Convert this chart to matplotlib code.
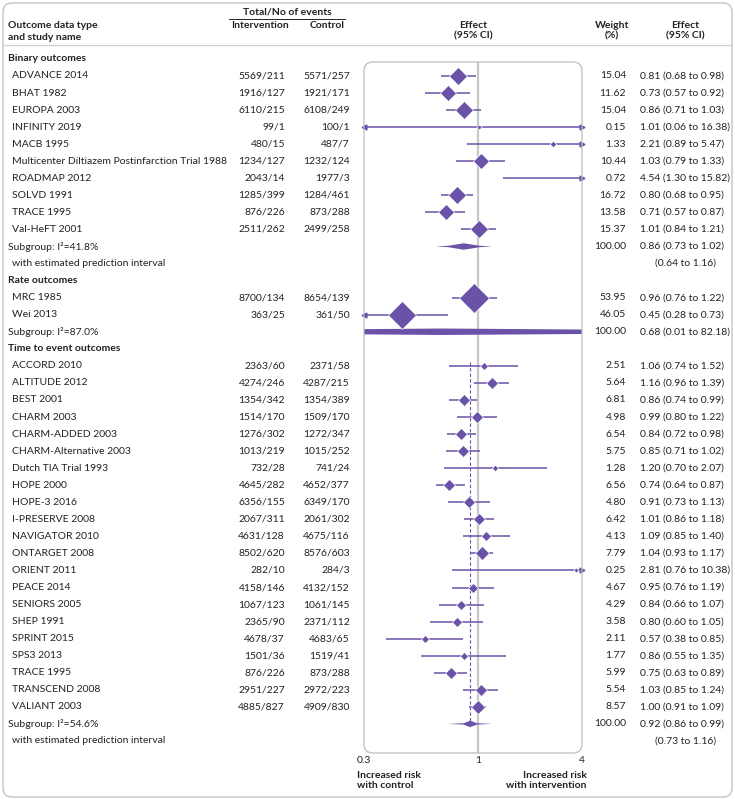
import numpy as np
import matplotlib.pyplot as plt
from matplotlib.patches import FancyBboxPatch, Polygon
from matplotlib.transforms import blended_transform_factory

W, H = 735, 799
purple = '#6a52a8'
grey = '#c8c8c8'
ink = '#222222'

plt.rcParams['font.family'] = ['Lato', 'DejaVu Sans']
plt.rcParams['font.size'] = 7.5

# binary outcomes
bin_names = ['ADVANCE 2014', 'BHAT 1982', 'EUROPA 2003', 'INFINITY 2019', 'MACB 1995',
             'Multicenter Diltiazem Postinfarction Trial 1988', 'ROADMAP 2012', 'SOLVD 1991',
             'TRACE 1995', 'Val-HeFT 2001']
bin_int = ['5569/211', '1916/127', '6110/215', '99/1', '480/15', '1234/127', '2043/14',
           '1285/399', '876/226', '2511/262']
bin_ctl = ['5571/257', '1921/171', '6108/249', '100/1', '487/7', '1232/124', '1977/3',
           '1284/461', '873/288', '2499/258']
bin_wt = [15.04, 11.62, 15.04, 0.15, 1.33, 10.44, 0.72, 16.72, 13.58, 15.37]
bin_est = [0.81, 0.73, 0.86, 1.01, 2.21, 1.03, 4.54, 0.80, 0.71, 1.01]
bin_lo = [0.68, 0.57, 0.71, 0.06, 0.89, 0.79, 1.30, 0.68, 0.57, 0.84]
bin_hi = [0.98, 0.92, 1.03, 16.38, 5.47, 1.33, 15.82, 0.95, 0.87, 1.21]
bin_i2 = '41.8%'
bin_pool = [0.86, 0.73, 1.02]
bin_pi = [0.64, 1.16]

# rate outcomes
rate_names = ['MRC 1985', 'Wei 2013']
rate_int = ['8700/134', '363/25']
rate_ctl = ['8654/139', '361/50']
rate_wt = [53.95, 46.05]
rate_est = [0.96, 0.45]
rate_lo = [0.76, 0.28]
rate_hi = [1.22, 0.73]
rate_i2 = '87.0%'
rate_pool = [0.68, 0.01, 82.18]

# time to event outcomes
tte_names = ['ACCORD 2010', 'ALTITUDE 2012', 'BEST 2001', 'CHARM 2003', 'CHARM-ADDED 2003',
             'CHARM-Alternative 2003', 'Dutch TIA Trial 1993', 'HOPE 2000', 'HOPE-3 2016',
             'I-PRESERVE 2008', 'NAVIGATOR 2010', 'ONTARGET 2008', 'ORIENT 2011', 'PEACE 2014',
             'SENIORS 2005', 'SHEP 1991', 'SPRINT 2015', 'SPS3 2013', 'TRACE 1995',
             'TRANSCEND 2008', 'VALIANT 2003']
tte_int = ['2363/60', '4274/246', '1354/342', '1514/170', '1276/302', '1013/219', '732/28',
           '4645/282', '6356/155', '2067/311', '4631/128', '8502/620', '282/10', '4158/146',
           '1067/123', '2365/90', '4678/37', '1501/36', '876/226', '2951/227', '4885/827']
tte_ctl = ['2371/58', '4287/215', '1354/389', '1509/170', '1272/347', '1015/252', '741/24',
           '4652/377', '6349/170', '2061/302', '4675/116', '8576/603', '284/3', '4132/152',
           '1061/145', '2371/112', '4683/65', '1519/41', '873/288', '2972/223', '4909/830']
tte_wt = [2.51, 5.64, 6.81, 4.98, 6.54, 5.75, 1.28, 6.56, 4.80, 6.42, 4.13, 7.79, 0.25, 4.67,
          4.29, 3.58, 2.11, 1.77, 5.99, 5.54, 8.57]
tte_est = [1.06, 1.16, 0.86, 0.99, 0.84, 0.85, 1.20, 0.74, 0.91, 1.01, 1.09, 1.04, 2.81, 0.95,
           0.84, 0.80, 0.57, 0.86, 0.75, 1.03, 1.00]
tte_lo = [0.74, 0.96, 0.74, 0.80, 0.72, 0.71, 0.70, 0.64, 0.73, 0.86, 0.85, 0.93, 0.76, 0.76,
          0.66, 0.60, 0.38, 0.55, 0.63, 0.85, 0.91]
tte_hi = [1.52, 1.39, 0.99, 1.22, 0.98, 1.02, 2.07, 0.87, 1.13, 1.18, 1.40, 1.17, 10.38, 1.19,
          1.07, 1.05, 0.85, 1.35, 0.89, 1.24, 1.09]
tte_i2 = '54.6%'
tte_pool = [0.92, 0.86, 0.99]
tte_pi = [0.73, 1.16]

sections = [
    ('Binary outcomes', bin_names, bin_int, bin_ctl, bin_wt, bin_est, bin_lo, bin_hi,
     bin_i2, bin_pool, bin_pi, False),
    ('Rate outcomes', rate_names, rate_int, rate_ctl, rate_wt, rate_est, rate_lo, rate_hi,
     rate_i2, rate_pool, None, False),
    ('Time to event outcomes', tte_names, tte_int, tte_ctl, tte_wt, tte_est, tte_lo, tte_hi,
     tte_i2, tte_pool, tte_pi, True),
]

xmin, xmax = 0.3, 3.0
row0, pitch = 76, 17.05
box_l, box_r, box_t, box_b = 364, 582, 62, 753

fig = plt.figure(figsize=(W / 100, H / 100), dpi=100)
ax = fig.add_axes([box_l / W, 1 - box_b / H, (box_r - box_l) / W, (box_b - box_t) / H])
ax.set_xscale('log')
ax.set_xlim(xmin, xmax)
ax.set_ylim((box_b - row0) / pitch, (box_t - row0) / pitch)
for s in ax.spines.values():
    s.set_visible(False)
ax.patch.set_visible(False)
ax.set_yticks([])
ax.set_xticks([0.3, 1, 3])
ax.set_xticklabels(['0.3', '1', '4'])
ax.xaxis.set_minor_locator(plt.NullLocator())
ax.tick_params(axis='x', length=0, pad=2.5, labelsize=7.5, labelcolor=ink)

ax.axvline(1, color=grey, lw=1.6, zorder=0)

# frames
inch = fig.dpi_scale_trans
fig.patches.append(FancyBboxPatch(((box_l) / 100, (H - box_b) / 100), (box_r - box_l) / 100,
                                  (box_b - box_t) / 100, boxstyle='round,pad=0,rounding_size=0.09',
                                  transform=inch, fc='none', ec='#bdbdbd', lw=0.9, zorder=0))
fig.patches.append(FancyBboxPatch((3 / 100, 2 / 100), (W - 6) / 100, (H - 5) / 100,
                                  boxstyle='round,pad=0,rounding_size=0.09',
                                  transform=inch, fc='none', ec='#bdbdbd', lw=0.9, zorder=0))

tr = blended_transform_factory(fig.transFigure, ax.transData)


def fx(px):
    return px / W


def fy(px):
    return 1 - px / H


def row_text(x, r, s, ha='left', bold=False):
    fig.text(fx(x), r, s, transform=tr, ha=ha, va='center', color=ink,
             fontweight='bold' if bold else 'normal')


# header
fig.text(fx(8), fy(26), 'Outcome data type', fontweight='bold', va='center', color=ink)
fig.text(fx(8), fy(37), 'and study name', fontweight='bold', va='center', color=ink)
fig.text(fx(287), fy(12), 'Total/No of events', fontweight='bold', va='center', ha='center', color=ink)
fig.add_artist(plt.Line2D([fx(229), fx(345)], [fy(18.5), fy(18.5)], color=ink, lw=0.7))
fig.text(fx(260), fy(25), 'Intervention', fontweight='bold', va='center', ha='center', color=ink)
fig.text(fx(327), fy(25), 'Control', fontweight='bold', va='center', ha='center', color=ink)
fig.text(fx(473), fy(25), 'Effect', fontweight='bold', va='center', ha='center', color=ink)
fig.text(fx(473), fy(36), '(95% CI)', fontweight='bold', va='center', ha='center', color=ink)
fig.text(fx(612), fy(25), 'Weight', fontweight='bold', va='center', ha='center', color=ink)
fig.text(fx(612), fy(36), '(%)', fontweight='bold', va='center', ha='center', color=ink)
fig.text(fx(685), fy(25), 'Effect', fontweight='bold', va='center', ha='center', color=ink)
fig.text(fx(685), fy(36), '(95% CI)', fontweight='bold', va='center', ha='center', color=ink)
fig.add_artist(plt.Line2D([fx(3), fx(W - 3)], [fy(45), fy(45)], color='#d0d0d0', lw=0.9))


def fmt_ci(e, lo, hi):
    return f'{e:.2f} ({lo:.2f} to {hi:.2f})'


r = -1
for (title, names, n_int, n_ctl, wts, est, lo, hi, i2, pool, pi, dash) in sections:
    row_text(8, r, title, bold=True)
    r += 1
    first = r
    for i in range(len(names)):
        row_text(12, r, names[i])
        row_text(285, r, n_int[i], ha='right')
        row_text(350, r, n_ctl[i], ha='right')
        row_text(626, r, f'{wts[i]:.2f}', ha='right')
        row_text(640, r, fmt_ci(est[i], lo[i], hi[i]))
        ax.plot([lo[i], hi[i]], [r, r], color=purple, lw=1.1, solid_capstyle='butt', zorder=2)
        if hi[i] > xmax:
            ax.plot(xmax, r, marker='>', ms=3.5, color=purple, clip_on=False, zorder=3)
        if lo[i] < xmin:
            ax.plot(xmin, r, marker='<', ms=3.5, color=purple, clip_on=False, zorder=3)
        if xmin < est[i] < xmax:
            ms = max(3.0 * wts[i] ** 0.4, 2.6)
            ax.plot(est[i], r, marker='D', ms=ms, color=purple, mec='white', mew=0.5, zorder=4)
        r += 1
    # subgroup
    row_text(8, r, 'Subgroup: I\u00b2=' + i2)
    row_text(626, r, '100.00', ha='right')
    row_text(640, r, fmt_ci(*pool))
    e, l, h = pool
    hh = 0.19
    if pi is not None:
        xs = [pi[0], l, e, h, pi[1], h, e, l]
        ys = [r, r + 0.04, r + hh, r + 0.04, r, r - 0.04, r - hh, r - 0.04]
    else:
        xs = [l, e, h, e]
        ys = [r, r + hh, r, r - hh]
    ax.add_patch(Polygon(np.column_stack([xs, ys]), closed=True, fc=purple, ec='none', zorder=3))
    if dash:
        ax.plot([e, e], [first - 0.25, r - hh], color=purple, lw=0.8, ls=(0, (3, 2)), zorder=1)
    r += 1
    if pi is not None:
        row_text(12, r, 'with estimated prediction interval')
        row_text(716, r, f'({pi[0]:.2f} to {pi[1]:.2f})', ha='right')
        r += 1

# bottom labels
fig.text(fx(357), fy(776), 'Increased risk', fontweight='bold', va='center', color=ink)
fig.text(fx(357), fy(786), 'with control', fontweight='bold', va='center', color=ink)
fig.text(fx(587), fy(776), 'Increased risk', fontweight='bold', va='center', ha='right', color=ink)
fig.text(fx(587), fy(786), 'with intervention', fontweight='bold', va='center', ha='right', color=ink)

fig.savefig('out.png', dpi=100)
